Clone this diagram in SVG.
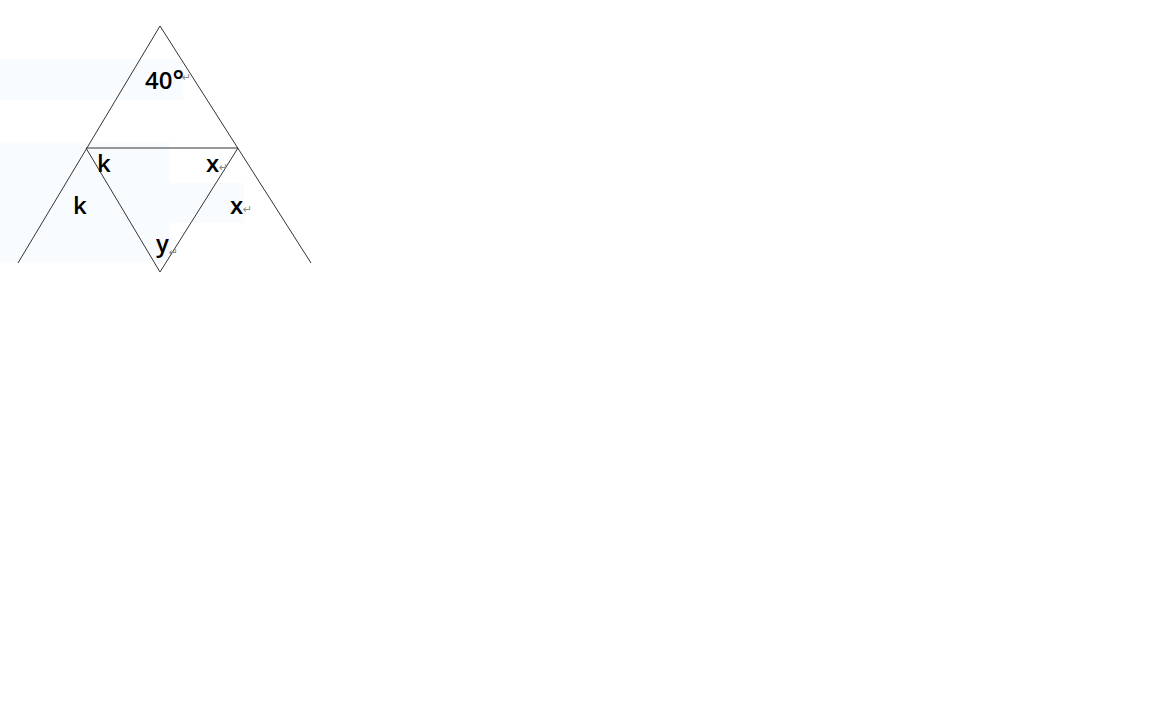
<svg xmlns="http://www.w3.org/2000/svg" width="1152" height="720" viewBox="0 0 1152 720">
<style>
.bg{fill:#f9fcff}
.ln{stroke:#333;stroke-width:1;fill:none}
.lb{font-family:"Open Sans","Liberation Sans",sans-serif;font-size:24px;font-weight:600;fill:#000}
.rm{font-family:"DejaVu Sans",sans-serif;font-size:11px;fill:#888}
</style>
<rect width="1152" height="720" fill="#fff"/>
<g id="background">
<rect class="bg" x="0" y="59" width="183" height="41"/>
<rect class="bg" x="0" y="142" width="170" height="120"/>
<rect class="bg" x="170" y="183" width="74" height="40"/>
</g>
<g id="connectors">
<polyline class="ln" points="18,263 160,26 311,263"/>
<line class="ln" x1="86" y1="148" x2="238" y2="148"/>
<polyline class="ln" points="86,148 160,272 238,148"/>
</g>
<g id="labels">
<g id="label-40"><text class="lb" x="145" y="89">40<tspan font-size="27" dy="1">°</tspan></text><text class="rm" x="182" y="81">↵</text></g>
<g id="label-k1"><text class="lb" x="97" y="172">k</text></g>
<g id="label-x1"><text class="lb" x="206" y="172">x</text><text class="rm" x="219" y="171">↵</text></g>
<g id="label-k2"><text class="lb" x="73" y="214">k</text></g>
<g id="label-x2"><text class="lb" x="230" y="214">x</text><text class="rm" x="243" y="213">↵</text></g>
<g id="label-y"><text class="lb" x="156" y="252">y</text><text class="rm" x="169" y="256">↵</text></g>
</g>
</svg>
